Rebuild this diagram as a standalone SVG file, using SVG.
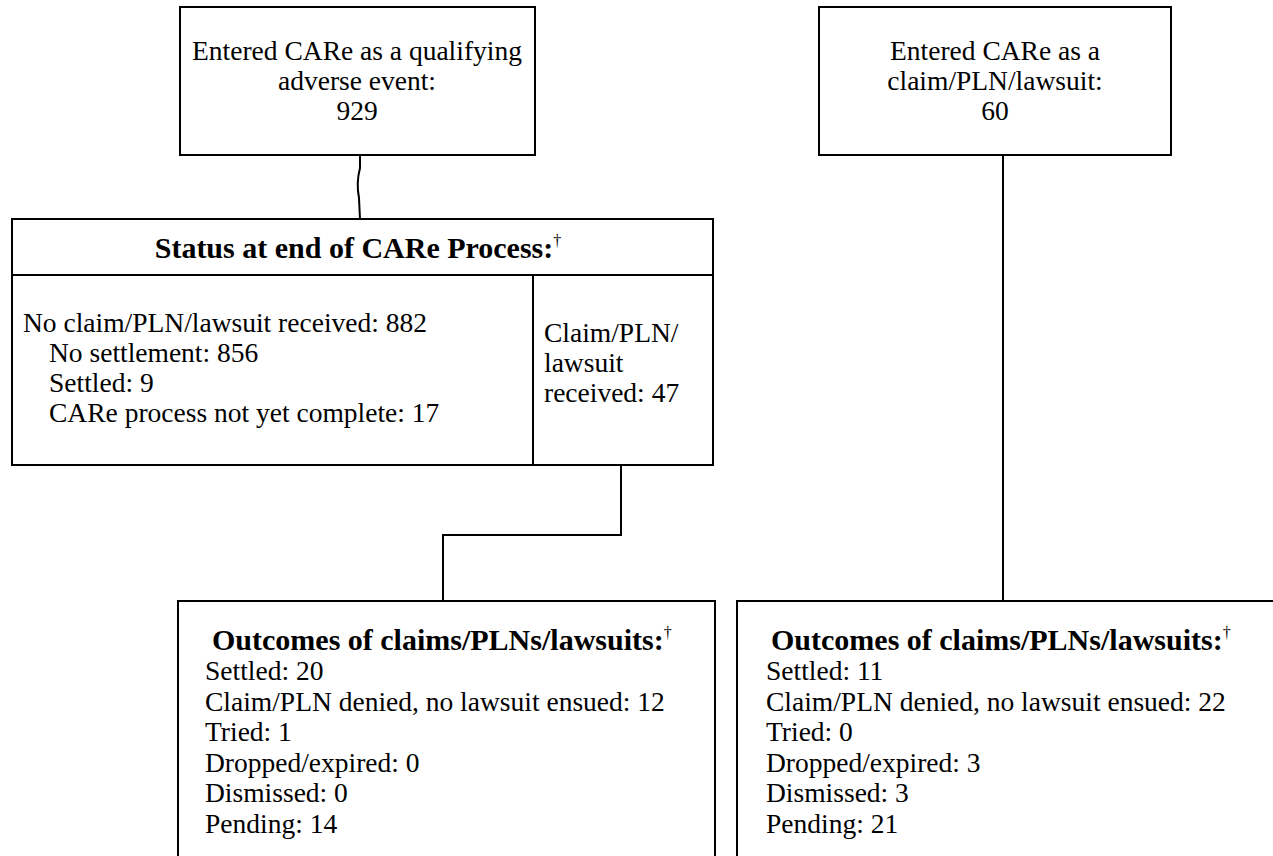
<svg xmlns="http://www.w3.org/2000/svg" width="1273" height="856" viewBox="0 0 1273 856">
<style>
.box{fill:#fff;stroke:#000;stroke-width:2}
.ln{fill:none;stroke:#000;stroke-width:2}
text{font-family:"Liberation Serif","Times New Roman",serif;font-size:27.5px;fill:#000}
.c{text-anchor:middle}
.b{font-weight:bold;font-size:30px}
.sup{font-size:16px;font-weight:normal}
</style>
<g id="connectors">
<path class="ln" d="M360,155 L360,168 Q356,183 359,198 L360,219"/>
<path class="ln" d="M621,465 L621,535 L443,535 L443,600"/>
<path class="ln" d="M1003,155 L1003,600"/>
</g>
<g id="n1">
<rect class="box" x="180" y="7" width="355" height="148"/>
<text class="c" x="357" y="60">Entered CARe as a qualifying</text>
<text class="c" x="357" y="90">adverse event:</text>
<text class="c" x="357" y="120">929</text>
</g>
<g id="n2">
<rect class="box" x="819" y="7" width="352" height="148"/>
<text class="c" x="995" y="60">Entered CARe as a</text>
<text class="c" x="995" y="90">claim/PLN/lawsuit:</text>
<text class="c" x="995" y="120">60</text>
</g>
<g id="status">
<rect class="box" x="12" y="219" width="701" height="246"/>
<line class="ln" x1="12" y1="275" x2="713" y2="275"/>
<line class="ln" x1="533" y1="275" x2="533" y2="465"/>
<text class="c b" x="358" y="258">Status at end of CARe Process:<tspan class="sup" dy="-12">†</tspan></text>
<text x="23" y="332">No claim/PLN/lawsuit received: 882</text>
<text x="49" y="362">No settlement: 856</text>
<text x="49" y="392">Settled: 9</text>
<text x="49" y="422">CARe process not yet complete: 17</text>
<text x="544" y="342">Claim/PLN/</text>
<text x="544" y="372">lawsuit</text>
<text x="544" y="402">received: 47</text>
</g>
<g id="out1">
<rect class="box" x="178" y="601" width="537" height="270"/>
<text class="b" x="212" y="650">Outcomes of claims/PLNs/lawsuits:<tspan class="sup" dy="-12">†</tspan></text>
<text x="205" y="680">Settled: 20</text>
<text x="205" y="711">Claim/PLN denied, no lawsuit ensued: 12</text>
<text x="205" y="741">Tried: 1</text>
<text x="205" y="772">Dropped/expired: 0</text>
<text x="205" y="802">Dismissed: 0</text>
<text x="205" y="833">Pending: 14</text>
</g>
<g id="out2">
<rect class="box" x="737" y="601" width="560" height="270"/>
<text class="b" x="771" y="650">Outcomes of claims/PLNs/lawsuits:<tspan class="sup" dy="-12">†</tspan></text>
<text x="766" y="680">Settled: 11</text>
<text x="766" y="711">Claim/PLN denied, no lawsuit ensued: 22</text>
<text x="766" y="741">Tried: 0</text>
<text x="766" y="772">Dropped/expired: 3</text>
<text x="766" y="802">Dismissed: 3</text>
<text x="766" y="833">Pending: 21</text>
</g>
</svg>
